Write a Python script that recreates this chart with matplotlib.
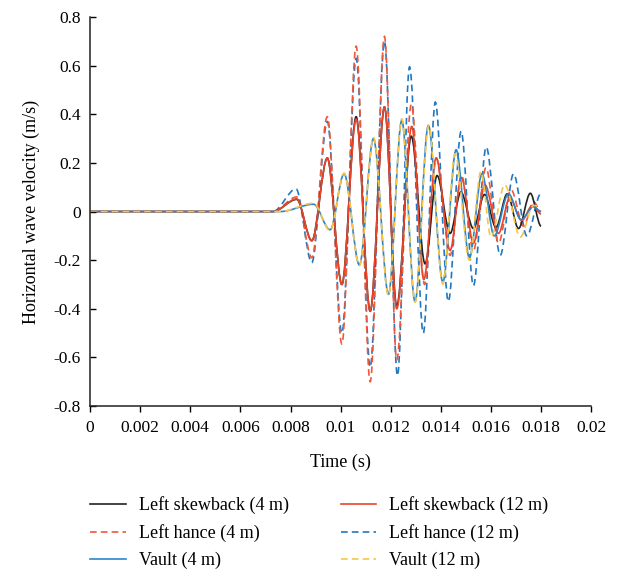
import matplotlib
matplotlib.use('Agg')
import matplotlib.pyplot as plt
from matplotlib.path import Path
from matplotlib.patches import PathPatch
from matplotlib.lines import Line2D

plt.rcParams['font.family'] = ['Liberation Serif', 'DejaVu Serif']
plt.rcParams['axes.unicode_minus'] = False

# extrema of each record (time in ms, velocity in m/s)
skew4_t = [0, 7.3, 8.25, 8.85, 9.47, 10.05, 10.62, 11.18, 11.75, 12.24, 12.82, 13.37,
           13.85, 14.37, 14.8, 15.3, 15.74, 16.2, 16.65, 17.1, 17.57, 18.0]
skew4_v = [0, 0, 0.05, -0.12, 0.22, -0.30, 0.39, -0.41, 0.43, -0.39, 0.31, -0.215,
           0.148, -0.09, 0.08, -0.07, 0.07, -0.065, 0.073, -0.07, 0.075, -0.06]

skew12_t = [0, 7.3, 8.25, 8.85, 9.47, 10.05, 10.62, 11.18, 11.75, 12.24, 12.84, 13.32,
            13.81, 14.37, 14.82, 15.3, 15.76, 16.3, 16.75, 17.23, 17.65, 18.0]
skew12_v = [0, 0, 0.052, -0.12, 0.22, -0.30, 0.38, -0.41, 0.43, -0.40, 0.35, -0.28,
            0.22, -0.16, 0.14, -0.13, 0.11, -0.09, 0.055, -0.037, 0.025, -0.01]

hance4_t = [0, 7.3, 8.25, 8.85, 9.47, 10.05, 10.62, 11.18, 11.75, 12.24, 12.82, 13.35,
            13.82, 14.37, 14.82, 15.3, 15.8, 16.3, 16.8, 17.3, 17.7, 18.0]
hance4_v = [0, 0, 0.06, -0.19, 0.39, -0.545, 0.68, -0.70, 0.72, -0.61, 0.44, -0.30,
            0.22, -0.18, 0.15, -0.16, 0.18, -0.13, 0.09, -0.06, 0.04, 0.0]

hance12_t = [0, 7.3, 8.22, 8.85, 9.47, 10.05, 10.62, 11.18, 11.75, 12.27, 12.75, 13.3,
             13.78, 14.3, 14.81, 15.3, 15.81, 16.37, 16.9, 17.43, 18.0]
hance12_v = [0, 0, 0.093, -0.21, 0.37, -0.50, 0.63, -0.64, 0.70, -0.675, 0.595, -0.50,
             0.45, -0.37, 0.33, -0.305, 0.265, -0.18, 0.155, -0.10, 0.075]

vault4_t = [0, 7.6, 8.92, 9.58, 10.14, 10.75, 11.31, 11.91, 12.44, 12.97, 13.5, 14.08,
            14.61, 15.14, 15.64, 16.13, 16.7, 17.2, 17.7, 18.0]
vault4_v = [0, 0, 0.03, -0.075, 0.155, -0.22, 0.30, -0.34, 0.375, -0.37, 0.354, -0.29,
            0.254, -0.19, 0.155, -0.10, 0.073, -0.034, 0.02, 0.0]

vault12_t = [0, 7.6, 8.92, 9.58, 10.14, 10.75, 11.31, 11.91, 12.44, 12.97, 13.52, 14.08,
             14.57, 15.14, 15.6, 16.0, 16.55, 17.17, 17.7, 18.0]
vault12_v = [0, 0, 0.034, -0.078, 0.158, -0.222, 0.306, -0.346, 0.381, -0.373, 0.354, -0.298,
             0.237, -0.20, 0.165, -0.105, 0.11, -0.105, 0.025, 0.02]

labels = ['Left skewback (4 m)', 'Left hance (4 m)', 'Vault (4 m)',
          'Left skewback (12 m)', 'Left hance (12 m)', 'Vault (12 m)']
xticklabels = ['0', '0.002', '0.004', '0.006', '0.008', '0.01', '0.012',
               '0.014', '0.016', '0.018', '0.02']
yticklabels = ['-0.8', '-0.6', '-0.4', '-0.2', '0', '0.2', '0.4', '0.6', '0.8']


def wave_path(t_ms, v):
    # smooth curve through the extrema, flat tangent at each one
    t = [x / 1000.0 for x in t_ms]
    verts = [(t[0], v[0])]
    codes = [Path.MOVETO]
    for i in range(len(t) - 1):
        d = t[i + 1] - t[i]
        verts += [(t[i] + d / 3, v[i]), (t[i + 1] - d / 3, v[i + 1]), (t[i + 1], v[i + 1])]
        codes += [Path.CURVE4] * 3
    return Path(verts, codes)


dash = (0, (4, 2.5))
series = [
    (hance12_t, hance12_v, '#1f78c1', dash, labels[4]),
    (hance4_t, hance4_v, '#f0583a', dash, labels[1]),
    (skew4_t, skew4_v, '#222222', '-', labels[0]),
    (skew12_t, skew12_v, '#e8452c', '-', labels[3]),
    (vault4_t, vault4_v, '#2b86c9', '-', labels[2]),
    (vault12_t, vault12_v, '#f8c646', dash, labels[5]),
]

fig = plt.figure(figsize=(6.21, 5.73), dpi=100)
ax = fig.add_axes([0.145, 0.2914, 0.807, 0.6789])

handles = {}
for t, v, c, ls, lab in series:
    ax.add_patch(PathPatch(wave_path(t, v), fill=False, edgecolor=c, lw=1.2,
                           linestyle=ls, transform=ax.transData))
    handles[lab] = Line2D([], [], color=c, lw=1.2, linestyle=ls)

ax.set_xlim(0, 0.02)
ax.set_ylim(-0.8, 0.8)
ax.set_xticks([i * 0.002 for i in range(11)])
ax.set_xticklabels(xticklabels)
ax.set_yticks([-0.8 + i * 0.2 for i in range(9)])
ax.set_yticklabels(yticklabels)
ax.tick_params(axis='x', labelsize=12.5, direction='out', length=4, width=1, pad=6)
ax.tick_params(axis='y', labelsize=12.5, direction='in', length=4, width=1, pad=6.5)
for s in ['top', 'right']:
    ax.spines[s].set_visible(False)
for s in ['left', 'bottom']:
    ax.spines[s].set_linewidth(1.1)
    ax.spines[s].set_color('#222222')

ax.set_xlabel('Time (s)', fontsize=13, labelpad=13)
ax.set_ylabel('Horizontal wave velocity (m/s)', fontsize=13, labelpad=10)

fig.legend([handles[l] for l in labels], labels, ncol=2, frameon=False,
           loc='upper left', bbox_to_anchor=(0.134, 0.1465), fontsize=13,
           handlelength=1.95, handletextpad=0.72, columnspacing=2.9,
           labelspacing=0.55, borderaxespad=0)

fig.savefig('out.png', dpi=100)
